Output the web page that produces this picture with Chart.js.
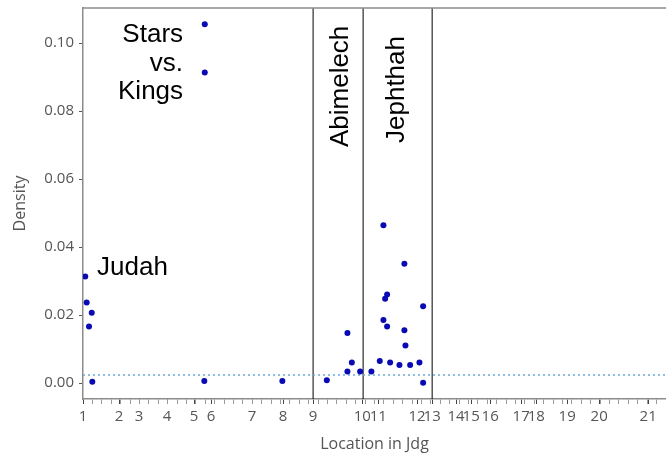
<!DOCTYPE html>
<html>
<head>
    <title>Density in Jdg</title>
    <script src="https://cdn.jsdelivr.net/npm/chart.js"></script>
    <style>
        body { margin: 0; background: #fff; }
        #densityChart { display: block; }
    </style>
</head>
<body>
    <canvas id="densityChart" width="666" height="456"></canvas>

    <script>
        // position in the book (verse index) and density of each point
        const locations = [2.4, 3.9, 9.3, 6.4, 9.9, 129.5, 129.5, 129, 212, 259.3,
            281.2, 281.2, 285.9, 294.7, 306.7, 315.6, 319.5, 319.5, 321.3, 323.4,
            323.4, 326.6, 336.5, 341.8, 341.8, 342.9, 347.9, 357.8, 361.7, 361.7];
        const densities = [0.0313, 0.0237, 0.0207, 0.0166, 0.0004, 0.1055, 0.0913, 0.0006, 0.0006, 0.0008,
            0.0147, 0.0034, 0.0060, 0.0034, 0.0034, 0.0065, 0.0464, 0.0185, 0.0248, 0.0260,
            0.0166, 0.0060, 0.0053, 0.0351, 0.0155, 0.0110, 0.0053, 0.0060, 0.0226, 0.0001];

        // chapter labels and where they sit on the axis
        const chapterLabels = ['1', '2', '3', '4', '5', '6', '7', '8', '9', '10', '11',
            '12', '13', '14', '15', '16', '17', '18', '19', '20', '21'];
        const chapterPos = [0, 38.3, 59.6, 89.4, 118.1, 136.2, 179.8, 212.8, 244.7, 297,
            314, 355.3, 371.3, 396.8, 412.8, 433, 466, 482, 514.9, 548.9, 601];

        const sectionBounds = [244.7, 297.9, 371.3];
        const baseline = 0.00235;
        const yTicks = [0, 0.02, 0.04, 0.06, 0.08, 0.10];

        const xMin = 0, xMax = 620;
        const yMin = -0.0047, yMax = 0.1103;

        // labels written in the plot: [text lines, x, y, rotated, align]
        const notes = [
            [['Stars', 'vs.', 'Kings'], 106.4, 0.1003, false, 'right'],
            [['Judah'], 14.9, 0.0318, false, 'left'],
            [['Abimelech'], 281.9, 0.0694, true, 'left'],
            [['Jephthah'], 341.5, 0.0706, true, 'left']
        ];

        // minor tick marks every 10 verses
        const minorTicks = [];
        for (let v = 10; v < xMax; v += 10) minorTicks.push(v);

        const datasets = [{
            type: 'scatter',
            data: locations.map((x, i) => ({x: x, y: densities[i]})),
            backgroundColor: '#0a0ab4',
            borderColor: '#0a0ab4',
            pointRadius: 3,
            pointBorderWidth: 0
        }, {
            type: 'line',
            data: [{x: xMin, y: baseline}, {x: xMax, y: baseline}],
            borderColor: '#6aaad8',
            borderWidth: 1.5,
            borderDash: [2, 3],
            pointRadius: 0
        }];
        sectionBounds.forEach(b => {
            datasets.push({
                type: 'line',
                data: [{x: b, y: yMin}, {x: b, y: yMax}],
                borderColor: '#000',
                borderWidth: 1,
                pointRadius: 0
            });
        });

        const notesPlugin = {
            id: 'notes',
            afterDatasetsDraw(chart) {
                const ctx = chart.ctx;
                const xs = chart.scales.x, ys = chart.scales.y;
                const area = chart.chartArea;
                // top spine
                ctx.save();
                ctx.strokeStyle = '#8c8c8c';
                ctx.lineWidth = 1.5;
                ctx.beginPath();
                ctx.moveTo(area.left, area.top);
                ctx.lineTo(area.right, area.top);
                ctx.stroke();

                ctx.fillStyle = '#000';
                ctx.font = '26px "Liberation Sans", Arial, sans-serif';
                ctx.textBaseline = 'alphabetic';
                notes.forEach(n => {
                    const px = xs.getPixelForValue(n[1]);
                    const py = ys.getPixelForValue(n[2]);
                    ctx.save();
                    ctx.translate(px, py);
                    if (n[3]) ctx.rotate(-Math.PI / 2);
                    ctx.textAlign = n[4];
                    n[0].forEach((line, i) => ctx.fillText(line, 0, i * 28.5));
                    ctx.restore();
                });
                ctx.restore();
            }
        };

        const ctx = document.getElementById('densityChart').getContext('2d');
        const chart = new Chart(ctx, {
            data: { datasets: datasets },
            options: {
                responsive: false,
                animation: false,
                layout: { autoPadding: false, padding: { top: 8, right: 0, left: 0, bottom: 0 } },
                plugins: {
                    legend: { display: false },
                    tooltip: { enabled: false }
                },
                scales: {
                    x: {
                        type: 'linear',
                        min: xMin,
                        max: xMax,
                        afterBuildTicks: scale => {
                            scale.ticks = chapterPos.concat(minorTicks).map(v => ({value: v}));
                        },
                        afterFit: scale => {
                            scale.height = 57;
                            scale.paddingLeft = 0;
                            scale.paddingRight = 0;
                        },
                        border: { display: true, color: '#8c8c8c', width: 1.5 },
                        grid: {
                            drawOnChartArea: false,
                            drawTicks: true,
                            tickLength: 5,
                            color: c => (c.tick && chapterPos.includes(c.tick.value)) ? '#444' : '#9a9a9a'
                        },
                        ticks: {
                            autoSkip: false,
                            maxRotation: 0,
                            minRotation: 0,
                            padding: 4,
                            color: '#555',
                            font: { family: '"Open Sans"', size: 15 },
                            callback: v => {
                                const i = chapterPos.indexOf(v);
                                return i >= 0 ? chapterLabels[i] : '';
                            }
                        },
                        title: {
                            display: true,
                            text: 'Location in Jdg',
                            color: '#555',
                            font: { family: '"Open Sans"', size: 16 },
                            padding: { top: 0, bottom: 2 }
                        }
                    },
                    y: {
                        type: 'linear',
                        min: yMin,
                        max: yMax,
                        afterBuildTicks: scale => {
                            scale.ticks = yTicks.map(v => ({value: v}));
                        },
                        afterFit: scale => {
                            scale.width = 83;
                            scale.paddingTop = 0;
                            scale.paddingBottom = 0;
                        },
                        border: { display: true, color: '#8c8c8c', width: 1.5 },
                        grid: {
                            drawOnChartArea: false,
                            drawTicks: true,
                            tickLength: 4,
                            color: '#555'
                        },
                        ticks: {
                            padding: 5,
                            color: '#555',
                            font: { family: '"Open Sans"', size: 15 },
                            callback: v => v.toFixed(2)
                        },
                        title: {
                            display: true,
                            text: 'Density',
                            color: '#555',
                            font: { family: '"Open Sans"', size: 16 },
                            padding: { top: 11, bottom: 0 }
                        }
                    }
                }
            },
            plugins: [notesPlugin]
        });
    </script>
</body>
</html>
